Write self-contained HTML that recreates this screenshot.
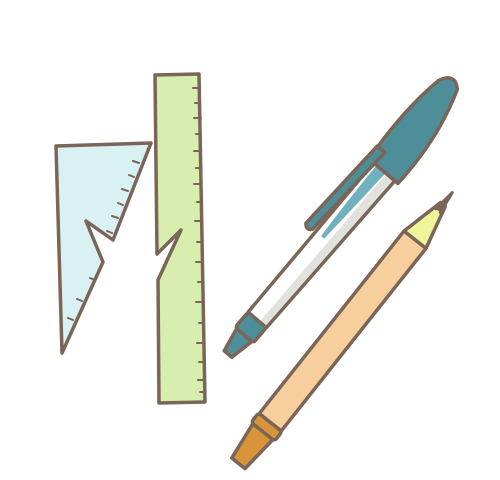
<!DOCTYPE html>
<html><head><meta charset="utf-8"><style>html,body{margin:0;padding:0;background:#fff}svg{display:block}</style></head>
<body>
<svg width="500" height="480" viewBox="0 0 500 480" stroke-linejoin="round" stroke-linecap="round">
  <g>
    <path d="M56,146 L151,143 L113,240 L86,221 L103,262 L62,353 Z" fill="#daf1f4" stroke="#7a6558" stroke-width="3.5"/>
    <path d="M139,163l-6,-2 M134,177l-5,-2 M128,191l-6,-2 M123,205l-5,-2 M118,218l-6,-2 M112,233l-5,-2 M95,280l-5,-2 M82,301l-5,-2 M73,320l-5,-2" stroke="#7a6558" stroke-width="2" fill="none"/>
  </g>
  <g>
    <path d="M155,75 L199,74 L205,402 L159,403 L158,280 L181,230 L157,254 Z" fill="#d7eeae" stroke="#7a6558" stroke-width="3.5"/>
    <path d="M200,88h-7 M200,103h-5 M201,118h-7 M201,134h-5 M201,151h-7 M201,168h-5 M201,184h-7 M202,202h-5 M202,221h-7 M202,242h-5 M203,262h-7 M203,282h-5 M203,302h-7 M204,323h-5 M204,343h-7 M204,362h-5 M205,380h-7 M205,392h-5" stroke="#7a6558" stroke-width="2" fill="none"/>
  </g>
  <g transform="translate(228,354) rotate(-49.4)">
    <path d="M0,-5 L25,-10 L25,10 L0,5 Z" fill="#4e8e98" stroke="#7a6558" stroke-width="3.5"/>
    <rect x="25" y="-12" width="20" height="24" rx="3" fill="#4e8e98" stroke="#7a6558" stroke-width="3.5"/>
    <path d="M45,-12 L245,-14 L245,14 L45,12 Z" fill="#ffffff" stroke="#7a6558" stroke-width="3.5"/>
    <path d="M47,3 L243,3 L243,12 L47,10 Z" fill="#e1e2dd"/>
    <path d="M150,-6 Q190,-9 240,-10 L240,2 Q190,0 150,-2 Z" fill="#71b1bd"/>
    <path d="M240,-20 Q300,-26 345,-18 Q362,-10 350,2 Q300,20 240,18 Z" fill="#4e8e98" stroke="#7a6558" stroke-width="3.5"/>
    <path d="M255,-22 L150,-26 Q144,-21 150,-17 L255,-12 Z" fill="#4e8e98" stroke="#7a6558" stroke-width="3.5"/>
  </g>
  <g transform="translate(238,463) rotate(-51.6)">
    <path d="M0,-8 L42,-13 L42,13 L0,9 Z" fill="#d99339" stroke="#7a6558" stroke-width="3.5"/>
    <rect x="40" y="-15" width="12" height="30" rx="3" fill="#d99339" stroke="#7a6558" stroke-width="3.5"/>
    <path d="M52,-14 L285,-14 L285,14 L52,14 Z" fill="#f7cf9d" stroke="#7a6558" stroke-width="3.5"/>
    <path d="M285,-14 L330,-3 L330,3 L285,14 Z" fill="#eff59b" stroke="#7a6558" stroke-width="3.5"/>
    <path d="M322,-3 L345,0 L322,3" fill="#7a6558" stroke="#7a6558" stroke-width="3"/>
  </g>
</svg>
</body></html>
